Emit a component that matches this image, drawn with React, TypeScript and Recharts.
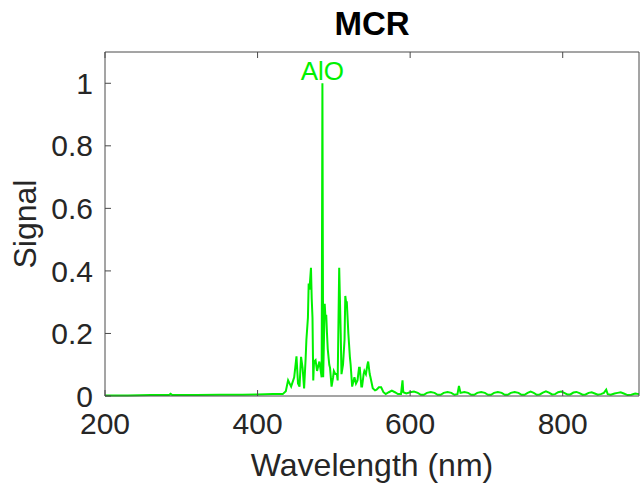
import { LineChart, Line, XAxis, YAxis, ReferenceDot } from 'recharts';

const wavelength = [
  200, 230, 260, 284, 286, 288, 320, 350, 380, 400, 420, 433,
  437, 440, 444, 448, 451, 453, 455, 457, 459, 461, 463, 464, 466, 467, 468, 470,
  471, 472, 473, 474, 476, 478, 479, 481, 484, 485, 486, 488, 489, 490, 491, 492,
  494, 495, 497, 499, 500, 502, 504, 505, 507, 509, 510, 512, 514, 515, 516, 517,
  519, 521, 522, 524, 527, 529, 531, 533, 534, 536, 537, 539, 540, 542, 544, 545,
  547, 548, 551, 554, 556, 559, 562, 565, 568, 572, 576, 580, 584, 588, 590, 591,
  595, 600, 605, 610, 614, 618, 622, 627, 632, 636, 640, 644, 649, 654, 658, 662,
  664, 666, 671, 676, 680, 684, 688, 693, 698, 702, 706, 710, 715, 720, 724, 728,
  732, 737, 742, 746, 750, 754, 758, 762, 766, 770, 774, 778, 782, 786, 790, 794,
  798, 802, 806, 810, 814, 818, 822, 826, 830, 834, 838, 842, 846, 850, 854, 857,
  859, 863, 868, 872, 876, 880, 885, 890, 895, 900,
];

const signal = [
  0.002, 0.002, 0.003, 0.003, 0.007, 0.003, 0.003, 0.004, 0.004, 0.005, 0.006, 0.006,
  0.015, 0.05, 0.03, 0.06, 0.127, 0.04, 0.03, 0.125, 0.09, 0.024, 0.12, 0.18, 0.25, 0.36, 0.34, 0.41,
  0.31, 0.25, 0.05, 0.11, 0.115, 0.08, 0.09, 0.11, 0.06, 1.0, 0.06, 0.295, 0.25, 0.26, 0.2, 0.15,
  0.1, 0.09, 0.03, 0.06, 0.08, 0.07, 0.07, 0.05, 0.41, 0.2, 0.07, 0.1, 0.18, 0.32, 0.3, 0.3,
  0.2, 0.125, 0.1, 0.03, 0.06, 0.04, 0.05, 0.09, 0.09, 0.03, 0.03, 0.07, 0.08, 0.07, 0.1, 0.11,
  0.07, 0.06, 0.025, 0.018, 0.02, 0.028, 0.028, 0.012, 0.006, 0.012, 0.017, 0.012, 0.006, 0.006, 0.05, 0.012,
  0.008, 0.012, 0.014, 0.01, 0.004, 0.004, 0.01, 0.013, 0.01, 0.004, 0.004, 0.01, 0.013, 0.01, 0.004, 0.006,
  0.032, 0.01, 0.013, 0.01, 0.004, 0.004, 0.01, 0.013, 0.01, 0.004, 0.004, 0.01, 0.013, 0.01, 0.004, 0.004,
  0.01, 0.013, 0.01, 0.004, 0.004, 0.01, 0.014, 0.01, 0.004, 0.005, 0.011, 0.015, 0.011, 0.005, 0.006, 0.012,
  0.014, 0.01, 0.005, 0.005, 0.011, 0.013, 0.009, 0.004, 0.005, 0.01, 0.012, 0.008, 0.004, 0.006, 0.01, 0.02,
  0.006, 0.004, 0.008, 0.01, 0.012, 0.008, 0.003, 0.004, 0.008, 0.006,
];

const xTicks = [200, 400, 600, 800];
const yTicks = [0, 0.2, 0.4, 0.6, 0.8, 1];
const peak = { wavelength: 485, signal: 1.0, name: 'AlO' };

const data = wavelength.map((w, i) => ({ wavelength: w, signal: signal[i] }));

const font = '"Liberation Sans", Arial, Helvetica, sans-serif';
const ink = '#262626';
const axisStroke = '#4a4a4a';
const green = '#00f000';

export default function App() {
  const tickStyle = { fontSize: 30, fill: ink, fontFamily: font };
  return (
    <div style={{ position: 'fixed', left: 0, top: 0, background: '#fff' }}>
      <LineChart width={640} height={489} data={data} margin={{ top: 0, right: 0, bottom: 0, left: 0 }}>
        <XAxis
          dataKey="wavelength"
          type="number"
          domain={[200, 900]}
          ticks={xTicks}
          height={93}
          stroke={axisStroke}
          tickSize={-6}
          tickMargin={23}
          tick={tickStyle}
          label={{
            value: 'Wavelength (nm)',
            position: 'insideBottom',
            offset: 13,
            style: { fontSize: 32, fill: ink, fontFamily: font },
          }}
        />
        <XAxis
          xAxisId="top"
          orientation="top"
          dataKey="wavelength"
          type="number"
          domain={[200, 900]}
          ticks={xTicks}
          height={52}
          stroke={axisStroke}
          tickSize={-6}
          tickFormatter={() => ''}
          label={{
            value: 'MCR',
            position: 'insideTop',
            offset: 12,
            style: { fontSize: 33, fontWeight: 'bold', fill: '#000', fontFamily: font },
          }}
        />
        <YAxis
          type="number"
          domain={[0, 1.1]}
          ticks={yTicks}
          width={105}
          stroke={axisStroke}
          tickSize={-6}
          tickMargin={18}
          tick={tickStyle}
          label={{
            value: 'Signal',
            angle: -90,
            position: 'insideLeft',
            offset: 25,
            style: { fontSize: 32, fill: ink, fontFamily: font, textAnchor: 'middle' },
          }}
        />
        <YAxis
          yAxisId="right"
          orientation="right"
          type="number"
          domain={[0, 1.1]}
          ticks={yTicks}
          width={1}
          stroke={axisStroke}
          tickSize={-6}
          tickFormatter={() => ''}
        />
        <Line
          type="linear"
          dataKey="signal"
          stroke={green}
          strokeWidth={2}
          dot={false}
          isAnimationActive={false}
        />
        <ReferenceDot
          x={peak.wavelength}
          y={peak.signal}
          r={0}
          stroke="none"
          fill="none"
          label={{
            value: peak.name,
            position: 'top',
            offset: 3,
            style: { fontSize: 26, fill: green, fontFamily: font },
          }}
        />
      </LineChart>
    </div>
  );
}
